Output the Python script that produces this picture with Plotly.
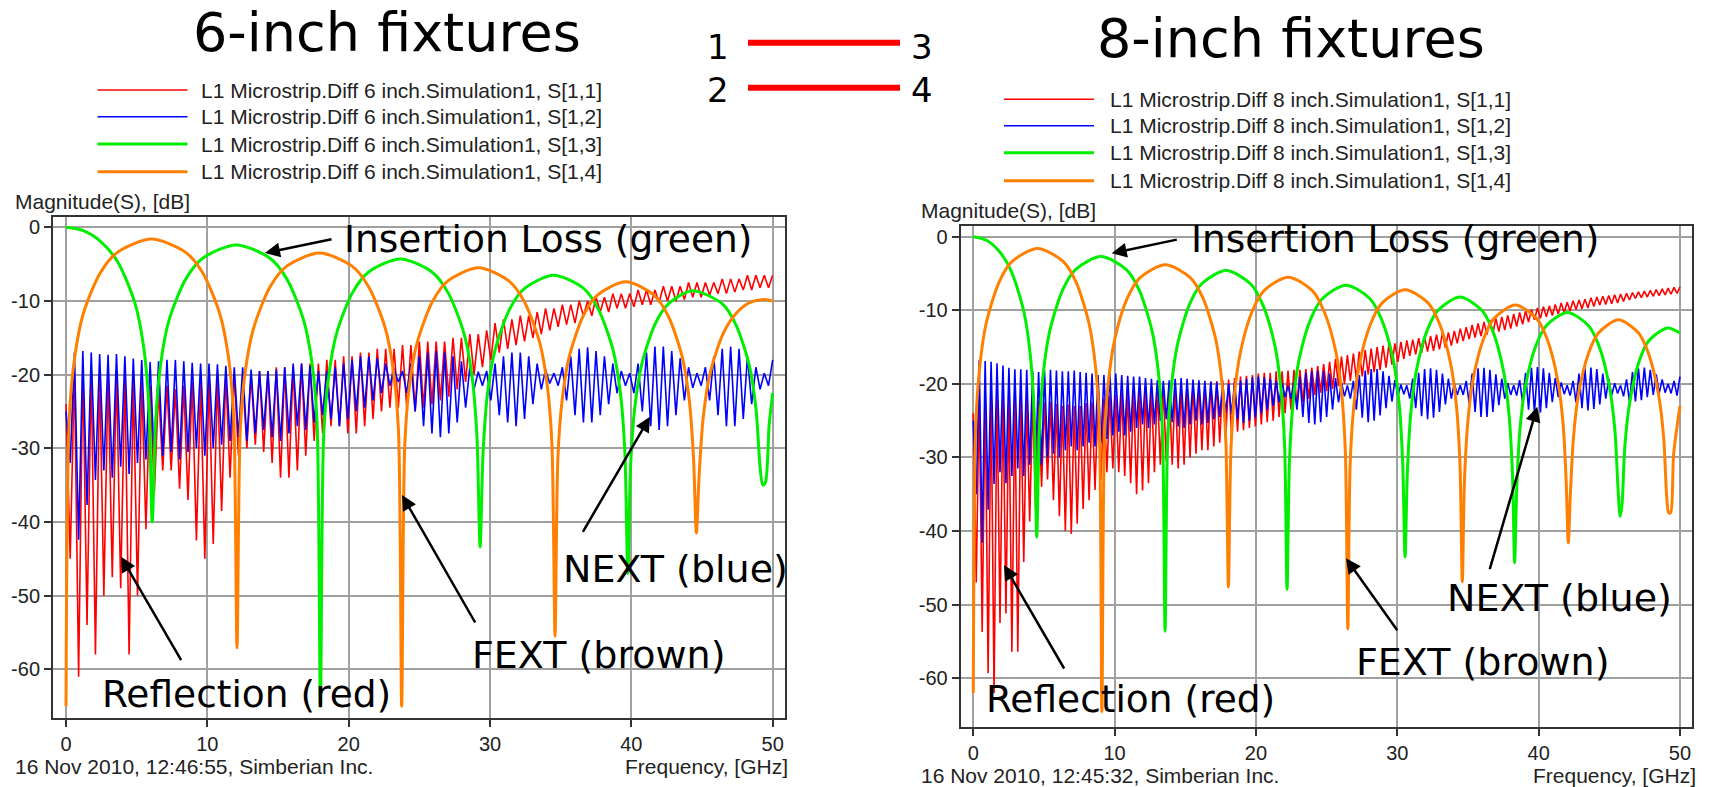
import numpy as np
import plotly.graph_objects as go

W, H = 1712, 787

# ---------------- tick labels ----------------
X_TICKS = [0, 10, 20, 30, 40, 50]
X_TICK_TEXT = ["0", "10", "20", "30", "40", "50"]
Y_TICKS = [0, -10, -20, -30, -40, -50, -60]
Y_TICK_TEXT = ["0", "-10", "-20", "-30", "-40", "-50", "-60"]

# ---------------- 6-inch fixtures ----------------
# S[1,1] reflection: crest / trough samples of the fast ripple (dB)
RED6_TOP = [-24, -19, -18.5, -19, -19.5, -20, -19.5, -20, -20.5, -21, -21.5, -22, -21.5, -22, -21.5,
            -21, -21, -20.5, -20.5, -20, -20, -20.5, -20, -19.5, -19.5, -19, -19, -19, -18.5, -18.5,
            -18.5, -18, -18, -17.5, -17.5, -17, -17, -16.5, -16.5, -16.5, -16, -16, -15.5, -15.5, -15.5,
            -15.5, -15, -15, -14.5, -14.5, -14, -13, -12.5, -12.5, -12, -12, -11.5, -11, -11, -10.5,
            -10.5, -10, -10, -9.5, -9.5, -9, -9, -9, -8.5, -8.5, -8.5, -8, -8, -8, -7.5,
            -7.5, -7.5, -7.5, -7, -7, -7, -6.5, -6.5, -6.5, -6.5]
RED6_DIP = [-45, -61, -54, -58, -50, -47.5, -49, -58, -50, -41, -36, -33, -33, -35.5, -37,
            -42.5, -45, -43, -38.5, -34, -31, -30, -29.5, -30.5, -32, -34, -34, -33, -31, -29,
            -28, -27, -27, -28, -28, -27, -26, -25, -24.5, -24.5, -24.5, -25, -24.5, -24, -23.5,
            -23, -22, -21, -20, -19, -18, -17, -16.5, -16, -15.5, -15, -14.5, -14, -13.5, -13.2,
            -13, -12, -12, -11.5, -11.5, -11, -11, -10.8, -10.5, -10.5, -10.2, -10, -10, -9.8, -9.5,
            -9.5, -9.2, -9, -9, -8.8, -8.5, -8.5, -8.2, -8.2]
# S[1,2] NEXT
BLUE6_TOP = [-25, -17, -16.8, -17, -17.2, -17.3, -17.2, -17.5, -17.8, -18, -18.3, -18.2, -18, -18, -18.2,
             -18.4, -18.5, -18.5, -18.6, -18.8, -19, -19, -19.3, -19.5, -19.5, -19.3, -19, -18.5, -18.5, -18.8,
             -19.5, -19.5, -19, -18.5, -18, -17.5, -17.5, -17.8, -18.5, -19.2, -19.5, -18.5, -17.5, -17, -16.8,
             -17, -17.5, -18.2, -19, -19.6, -19.5, -18.5, -17.5, -17, -17, -17.5, -18.5, -19.3, -19.8, -19,
             -17.5, -16.5, -16.3, -16.8, -17.5, -18.5, -19.5, -19.8, -18.5, -17, -16.2, -16.2, -16.8, -17.8, -19,
             -19.8, -19, -17.5, -16.5, -16.2, -16.5, -17.5, -19, -19.8, -18]
BLUE6_DIP = [-32, -42.4, -37.7, -34.3, -33, -34, -32.5, -33.5, -32, -31.5, -32, -31, -30.5, -31.5, -30.5,
             -30, -31, -30, -29.5, -29, -28.5, -29, -28, -27.5, -28.5, -29, -28, -27, -27.5, -26.5,
             -25.5, -26, -27, -26, -25, -24.5, -23.5, -22.5, -21.5, -21, -22.5, -25, -27, -28, -28.5,
             -28, -26.5, -24.5, -22, -21.5, -23.5, -25.5, -26.5, -27, -26, -24, -22, -21.2, -21.5, -23.5,
             -25.5, -26.5, -26.5, -25.5, -24, -22.5, -21.5, -22.5, -25, -27, -27.5, -27, -25.5, -23.5, -21.8,
             -21.5, -23.5, -25.5, -27, -27, -26, -24, -22, -21.5]
# S[1,3] insertion loss (frequency GHz, dB)
GREEN6_F = [0, 1.22, 2.44, 3.66, 4.88, 5.49, 5.86, 6.1,
            6.34, 6.70, 7.29, 8.48, 9.67, 12.05, 14.43, 15.62, 16.81, 17.41, 17.76, 18.0,
            18.23, 18.57, 19.13, 20.26, 21.39, 23.65, 25.91, 27.04, 28.17, 28.74, 29.07, 29.3,
            29.51, 29.82, 30.35, 31.39, 32.44, 34.5, 36.62, 37.66, 38.71, 39.23, 39.54, 39.75,
            39.94, 40.23, 40.71, 41.66, 42.62, 44.3, 46.44, 47.39, 48.35, 48.82, 49.11, 49.3,
            49.48, 49.75, 50.0]
GREEN6_DB = [0, -0.45, -1.9, -4.7, -10.3, -16.2, -24.0, -40.0,
             -26.4, -18.5, -12.6, -7.0, -4.2, -2.4, -4.2, -7.0, -12.6, -18.5, -26.4, -65.0,
             -28.3, -20.4, -14.5, -8.9, -6.1, -4.3, -6.1, -8.9, -14.5, -20.4, -28.3, -43.4,
             -30.5, -22.6, -16.7, -11.1, -8.3, -6.5, -8.3, -11.1, -16.7, -22.6, -30.5, -47.0,
             -32.6, -24.7, -18.8, -13.2, -10.4, -8.6, -10.4, -13.2, -18.8, -24.7, -32.6, -35.0,
             -34.7, -26.8, -22.5]
# S[1,4] FEXT
ORANGE6_F = [0, 0.24, 0.61, 1.21, 2.42, 3.63, 6.05, 8.47, 9.68, 10.89, 11.5, 11.86, 12.1,
             12.33, 12.68, 13.27, 14.43, 15.6, 17.93, 20.26, 21.42, 22.59, 23.17, 23.52, 23.75,
             23.97, 24.29, 24.84, 25.92, 27.0, 29.18, 31.35, 32.43, 33.52, 34.06, 34.38, 34.6,
             34.8, 35.1, 35.6, 36.6, 37.6, 39.6, 41.6, 42.6, 43.6, 44.1, 44.4, 44.6,
             44.79, 45.08, 45.55, 46.5, 47.45, 48.4, 49.35, 50.0]
ORANGE6_DB = [-65.0, -25.6, -17.7, -11.8, -6.2, -3.4, -1.6, -3.4, -6.2, -11.8, -17.7, -25.6, -57.1,
              -27.5, -19.6, -13.7, -8.1, -5.3, -3.5, -5.3, -8.1, -13.7, -19.6, -27.5, -65.0,
              -29.5, -21.6, -15.7, -10.1, -7.3, -5.5, -7.3, -10.1, -15.7, -21.6, -29.5, -55.5,
              -31.4, -23.5, -17.6, -12.0, -9.2, -7.4, -9.2, -12.0, -17.6, -23.5, -31.4, -41.5,
              -33.8, -25.9, -20.0, -14.4, -11.6, -10.2, -9.8, -10.0]

# ---------------- 8-inch fixtures ----------------
RED8_TOP = [-24, -21, -20.8, -21, -21.2, -21.5, -21.3, -21.6, -21.8, -22, -22, -22.3, -22.5, -22.4, -22.7,
            -23, -22.8, -23, -23, -22.6, -22.5, -22.2, -22, -21.7, -21.5, -21.2, -21, -20.8, -20.6, -20.5,
            -20.5, -20.4, -20.5, -20.3, -20.2, -20.2, -20, -20, -19.8, -19.9, -19.7, -19.6, -19.5, -19.4, -19.2,
            -19, -18.9, -18.8, -18.6, -18.5, -18.5, -18.3, -18.3, -18.2, -18.1, -18.1, -18, -17.8, -17.6, -17.3,
            -17, -16.6, -16.3, -16.1, -15.9, -15.6, -15.4, -15.2, -15, -14.8, -14.6, -14.5, -14.3, -14.1, -14,
            -13.8, -13.7, -13.5, -13.3, -13.1, -13, -12.8, -12.5, -12.3, -12, -11.8, -11.6, -11.3, -11.1, -10.9,
            -10.7, -10.5, -10.3, -10.1, -9.9, -9.7, -9.5, -9.4, -9.2, -9, -8.9, -8.7, -8.6, -8.5, -8.3,
            -8.2, -8.1, -8, -7.9, -7.8, -7.7, -7.6, -7.5, -7.4, -7.3, -7.2, -7.1, -7, -6.9, -6.8]
RED8_DIP = [-47, -53.7, -59.3, -62, -52.5, -51.2, -56.4, -56.4, -44.2, -38.7, -37, -34, -33, -35.8, -38,
            -40, -40.4, -39, -37, -35.8, -34.4, -33, -32, -31.5, -32, -32.5, -33.5, -35, -34.5, -33.5,
            -32, -31, -30.5, -31, -31.5, -31, -30, -29.5, -29, -29, -28.5, -28, -27.5, -27, -26.5,
            -26.3, -26, -25.8, -25.5, -25.2, -25, -24.5, -24, -23.5, -23, -22.5, -22, -21.5, -21.2, -21,
            -20.7, -20.3, -20, -19.6, -19.3, -19, -18.7, -18.4, -18.1, -17.8, -17.4, -17, -16.6, -16.2, -16,
            -15.8, -15.6, -15.5, -15.3, -15.1, -14.8, -14.5, -14.2, -13.9, -13.7, -13.5, -13.3, -13.1, -12.9, -12.7,
            -12.5, -12.2, -11.9, -11.6, -11.3, -11.1, -10.9, -10.7, -10.5, -10.3, -10.1, -9.9, -9.8, -9.7, -9.5,
            -9.3, -9.2, -9.1, -9, -8.8, -8.6, -8.4, -8.3, -8.2, -8.1, -8, -7.9, -7.8, -7.7]
BLUE8_TOP = [-25, -16.8, -16.9, -17, -17.2, -17.5, -17.8, -18, -18, -18.1, -18.3, -18.4, -18.2, -18.1, -18.2,
             -18.3, -18.3, -18.2, -18.4, -18.5, -18.6, -18.8, -18.8, -18.6, -18.6, -18.8, -18.9, -19, -19, -19.2,
             -19.3, -19.5, -19.6, -19.5, -19.3, -19.2, -19.3, -19.4, -19.5, -19.6, -19.7, -19.8, -19.9, -20, -19.8,
             -19.5, -19.3, -19.1, -19, -19.1, -19.3, -19.6, -19.9, -20.2, -19.8, -19, -18.5, -18.3, -18.2, -18.3,
             -18.6, -19.2, -19.8, -20.2, -19.6, -18.8, -18.2, -18, -18, -18.3, -18.9, -19.5, -20.1, -20.2, -19.3,
             -18.5, -18, -17.9, -18.1, -18.6, -19.3, -19.9, -20.2, -19.6, -18.6, -17.9, -17.8, -18.1, -18.7, -19.3,
             -19.9, -20.2, -19.5, -18.5, -17.8, -17.7, -17.9, -18.5, -19.2, -19.8, -20.2, -19.6, -18.6, -17.9, -17.8,
             -18, -18.6, -19.3, -19.9, -20.2, -19.4, -18.4, -17.9, -17.8, -18.1, -18.7, -19.4, -20, -19.6, -19]
BLUE8_DIP = [-35, -41.6, -37.1, -33.6, -32, -33.5, -32.5, -31.5, -32.5, -31, -30.5, -31, -30, -29.5, -30,
             -29, -28.5, -29, -28.5, -28, -28.5, -28, -27.5, -27, -26.5, -27, -26.5, -26, -25.5, -26,
             -25.5, -25, -24.8, -25.2, -25.8, -26, -25.5, -25, -25.5, -25.3, -24.8, -24.5, -24, -24.2, -24.8,
             -25.3, -25, -24.6, -24, -23.5, -23, -22.5, -21.8, -22, -23.5, -24.5, -25.3, -25.5, -25.2, -24.5,
             -23.5, -22.5, -21.7, -22, -23.5, -24.6, -25.2, -25, -24.3, -23.3, -22.4, -21.7, -21.4, -22, -23.3,
             -24.4, -24.8, -24.6, -23.8, -22.8, -22, -21.5, -21.5, -22.6, -23.8, -24.5, -24.5, -23.8, -22.9, -22,
             -21.5, -21.6, -22.5, -23.5, -24, -23.9, -23.3, -22.5, -21.8, -21.4, -21.6, -22.5, -23.3, -23.6, -23.4,
             -22.8, -22, -21.6, -21.3, -21.7, -22.4, -22.4, -22.2, -21.8, -21.5, -21.3, -21.2, -21.3, -21.6]
GREEN8_F = [0, 0.9, 1.8, 2.69, 3.59, 4.04, 4.31, 4.49,
            4.67, 4.94, 5.4, 6.31, 7.21, 9.03, 10.85, 11.75, 12.66, 13.12, 13.39, 13.57,
            13.74, 14.0, 14.43, 15.3, 16.16, 17.89, 19.61, 20.47, 21.34, 21.77, 22.03, 22.2,
            22.37, 22.62, 23.04, 23.87, 24.71, 26.38, 28.05, 28.88, 29.72, 30.13, 30.38, 30.55,
            30.71, 30.94, 31.33, 32.1, 32.88, 34.43, 35.98, 36.75, 37.53, 37.91, 38.15, 38.3,
            38.45, 38.67, 39.05, 39.79, 40.54, 42.04, 43.53, 44.28, 45.02, 45.4, 45.62, 45.77,
            45.9, 46.1, 46.44, 47.1, 47.77, 49.1, 50.0]
GREEN8_DB = [0, -0.45, -1.9, -4.7, -10.3, -16.2, -24.1, -40.8,
             -26.7, -18.8, -12.9, -7.3, -4.5, -2.7, -4.5, -7.3, -12.9, -18.8, -26.7, -53.6,
             -28.6, -20.7, -14.8, -9.2, -6.4, -4.6, -6.4, -9.2, -14.8, -20.7, -28.6, -47.9,
             -30.6, -22.7, -16.8, -11.2, -8.4, -6.6, -8.4, -11.2, -16.8, -22.7, -30.6, -43.5,
             -32.2, -24.3, -18.4, -12.8, -10.0, -8.2, -10.0, -12.8, -18.4, -24.3, -32.2, -44.3,
             -34.3, -26.4, -20.5, -14.9, -12.1, -10.3, -12.1, -14.9, -20.5, -26.4, -34.3, -38.0,
             -36.4, -28.5, -22.6, -17.0, -14.2, -12.4, -13.1]
ORANGE8_F = [0, 0.18, 0.455, 0.91, 1.82, 2.73, 4.55, 6.37, 7.28, 8.19, 8.65, 8.92, 9.1,
             9.28, 9.55, 10.0, 10.89, 11.79, 13.58, 15.37, 16.26, 17.16, 17.6, 17.87, 18.05,
             18.22, 18.47, 18.9, 19.74, 20.59, 22.28, 23.97, 24.81, 25.66, 26.08, 26.33, 26.5,
             26.66, 26.91, 27.31, 28.12, 28.93, 30.55, 32.17, 32.98, 33.79, 34.2, 34.44, 34.6,
             34.75, 34.98, 35.35, 36.1, 36.85, 38.35, 39.85, 40.6, 41.35, 41.73, 41.95, 42.1,
             42.24, 42.46, 42.81, 43.52, 44.23, 45.65, 47.07, 47.78, 48.49, 48.85, 49.06, 49.2,
             49.34, 49.55, 50.0]
ORANGE8_DB = [-62.0, -25.6, -17.7, -11.8, -6.2, -3.4, -1.6, -3.4, -6.2, -11.8, -17.7, -25.6, -64.5,
              -27.8, -19.9, -14.0, -8.4, -5.6, -3.8, -5.6, -8.4, -14.0, -19.9, -27.8, -47.6,
              -29.5, -21.6, -15.7, -10.1, -7.3, -5.5, -7.3, -10.1, -15.7, -21.6, -29.5, -53.3,
              -31.2, -23.3, -17.4, -11.8, -9.0, -7.2, -9.0, -11.8, -17.4, -23.3, -31.2, -46.9,
              -33.3, -25.4, -19.5, -13.9, -11.1, -9.3, -11.1, -13.9, -19.5, -25.4, -33.3, -41.6,
              -35.3, -27.4, -21.5, -15.9, -13.1, -11.3, -13.1, -15.9, -21.5, -27.4, -35.3, -37.5,
              -37.5, -29.6, -23.0]

LEGEND6 = ["L1 Microstrip.Diff 6 inch.Simulation1, S[1,1]", "L1 Microstrip.Diff 6 inch.Simulation1, S[1,2]",
           "L1 Microstrip.Diff 6 inch.Simulation1, S[1,3]", "L1 Microstrip.Diff 6 inch.Simulation1, S[1,4]"]
LEGEND8 = [s.replace("6 inch", "8 inch") for s in LEGEND6]

RED, BLUE, GREEN, ORANGE = "#ff0000", "#0000ff", "#00ee00", "#ff8000"
COLORS = [RED, BLUE, GREEN, ORANGE]
WIDTHS = [1.6, 1.6, 3, 3]


def ripple(top, dip):
    y = np.empty(len(top) + len(dip))
    y[0::2] = top
    y[1::2] = dip
    f = np.linspace(0, 50, len(y))  # uniform frequency sweep 0..50 GHz
    return f, y


def px(x):
    return x / W


def py(y):
    return 1 - y / H


fig = go.Figure()
panels = [
    ("x", "y", LEGEND6, (RED6_TOP, RED6_DIP), (BLUE6_TOP, BLUE6_DIP),
     (GREEN6_F, GREEN6_DB), (ORANGE6_F, ORANGE6_DB)),
    ("x2", "y2", LEGEND8, (RED8_TOP, RED8_DIP), (BLUE8_TOP, BLUE8_DIP),
     (GREEN8_F, GREEN8_DB), (ORANGE8_F, ORANGE8_DB)),
]
for xa, ya, names, red, blue, green, orange in panels:
    fr, yr = ripple(*red)
    fb, yb = ripple(*blue)
    fig.add_trace(go.Scatter(x=fr, y=yr, mode="lines", name=names[0], showlegend=False,
                             line=dict(color=RED, width=WIDTHS[0]), xaxis=xa, yaxis=ya))
    fig.add_trace(go.Scatter(x=fb, y=yb, mode="lines", name=names[1], showlegend=False,
                             line=dict(color=BLUE, width=WIDTHS[1]), xaxis=xa, yaxis=ya))
    fig.add_trace(go.Scatter(x=green[0], y=green[1], mode="lines", name=names[2], showlegend=False,
                             line=dict(color=GREEN, width=3, shape="spline", smoothing=0.8),
                             xaxis=xa, yaxis=ya))
    fig.add_trace(go.Scatter(x=orange[0], y=orange[1], mode="lines", name=names[3], showlegend=False,
                             line=dict(color=ORANGE, width=3, shape="spline", smoothing=0.8),
                             xaxis=xa, yaxis=ya))

SMALL = dict(family="Liberation Sans, Arial, sans-serif", size=20, color="#222222")
BIG = "DejaVu Sans, Verdana, sans-serif"

axis_common = dict(showgrid=True, gridcolor="#a0a0a0", gridwidth=1.5, zeroline=False,
                   showline=True, linecolor="#333333", linewidth=2, mirror=True,
                   ticks="outside", ticklen=7, tickwidth=1.5, tickcolor="#333333",
                   tickfont=SMALL)

# panel frames (pixel boxes)
L = dict(x0=53, x1=785, y0=216.7, y1=717.7, xr=[-0.92, 50.87], yr=[-66.57, 1.44])
R = dict(x0=960.7, x1=1691.7, y0=225.7, y1=726.7, xr=[-0.89, 50.83], yr=[-66.58, 1.49])

fig.update_layout(
    width=W, height=H, margin=dict(l=0, r=0, t=0, b=0),
    paper_bgcolor="white", plot_bgcolor="white", showlegend=False,
    xaxis=dict(domain=[px(L["x0"]), px(L["x1"])], range=L["xr"], anchor="y",
               tickvals=X_TICKS, ticktext=X_TICK_TEXT, **axis_common),
    yaxis=dict(domain=[py(L["y1"]), py(L["y0"])], range=L["yr"], anchor="x",
               tickvals=Y_TICKS, ticktext=Y_TICK_TEXT, **axis_common),
    xaxis2=dict(domain=[px(R["x0"]), px(R["x1"])], range=R["xr"], anchor="y2",
                tickvals=X_TICKS, ticktext=X_TICK_TEXT, **axis_common),
    yaxis2=dict(domain=[py(R["y1"]), py(R["y0"])], range=R["yr"], anchor="x2",
                tickvals=Y_TICKS, ticktext=Y_TICK_TEXT, **axis_common),
)

ann = []
shapes = []


def text(x, y, s, size, family, xanchor="center", color="#000000"):
    ann.append(dict(x=px(x), y=py(y), xref="paper", yref="paper", text=s, showarrow=False,
                    xanchor=xanchor, yanchor="middle",
                    font=dict(family=family, size=size, color=color)))


def arrow(tx, ty, hx, hy):
    ann.append(dict(x=px(hx), y=py(hy), ax=tx - hx, ay=ty - hy, xref="paper", yref="paper",
                    axref="pixel", ayref="pixel", text="", showarrow=True,
                    arrowhead=2, arrowsize=1.2, arrowwidth=2.5, arrowcolor="#000000",
                    standoff=0, startstandoff=0))


# titles
text(387, 32.3, "6-inch fixtures", 54, BIG)
text(1291, 38.3, "8-inch fixtures", 54, BIG)

# port diagram
text(718, 46.5, "1", 34, BIG)
text(718, 89.9, "2", 34, BIG)
text(922.5, 46.5, "3", 34, BIG)
text(922.5, 89.9, "4", 34, BIG)
for yy in (42.7, 87.7):
    shapes.append(dict(type="line", xref="paper", yref="paper", x0=px(748), x1=px(900),
                       y0=py(yy), y1=py(yy), line=dict(color=RED, width=6)))

# legends (drawn manually to match the original layout)
for names, lx0, lx1, tx, ys in [
    (LEGEND6, 97.6, 187.5, 199, [90, 116.7, 144, 171.7]),
    (LEGEND8, 1004, 1094, 1108, [99.3, 125.7, 152.7, 180.7]),
]:
    for i, (nm, yy) in enumerate(zip(names, ys)):
        shapes.append(dict(type="line", xref="paper", yref="paper", x0=px(lx0), x1=px(lx1),
                           y0=py(yy), y1=py(yy), line=dict(color=COLORS[i], width=1.5 if i < 2 else 3)))
        text(tx, yy, nm, 21, SMALL["family"], xanchor="left", color="#222222")

# axis titles and footers
text(12.7, 201.7, "Magnitude(S), [dB]", 21, SMALL["family"], xanchor="left", color="#222222")
text(919, 210.7, "Magnitude(S), [dB]", 21, SMALL["family"], xanchor="left", color="#222222")
text(790, 766.7, "Frequency, [GHz]", 21, SMALL["family"], xanchor="right", color="#222222")
text(1698, 775, "Frequency, [GHz]", 21, SMALL["family"], xanchor="right", color="#222222")
text(12.7, 766.7, "16 Nov 2010, 12:46:55, Simberian Inc.", 21, SMALL["family"], xanchor="left", color="#222222")
text(919, 775, "16 Nov 2010, 12:45:32, Simberian Inc.", 21, SMALL["family"], xanchor="left", color="#222222")

# call-outs
text(548, 238.7, "Insertion Loss (green)", 37.5, BIG)
arrow(333, 239, 265, 253)
text(246.5, 693.7, "Reflection (red)", 37.5, BIG)
arrow(182, 661.7, 121, 556.7)
text(599, 655.2, "FEXT (brown)", 38, BIG)
arrow(476, 624, 402, 495)
text(675, 568.6, "NEXT (blue)", 38, BIG)
arrow(582, 533.3, 650, 416.7)

text(1395, 238.7, "Insertion Loss (green)", 37.5, BIG)
arrow(1178.3, 239.3, 1111.7, 253.3)
text(1130, 698.7, "Reflection (red)", 37.5, BIG)
arrow(1065, 670, 1004, 565)
text(1482.5, 661.9, "FEXT (brown)", 38, BIG)
arrow(1398.3, 631.7, 1346, 558.3)
text(1559, 597.6, "NEXT (blue)", 38, BIG)
arrow(1489.3, 570.7, 1537.3, 406.7)

fig.update_layout(annotations=ann, shapes=shapes)
fig.write_html("out.html")
